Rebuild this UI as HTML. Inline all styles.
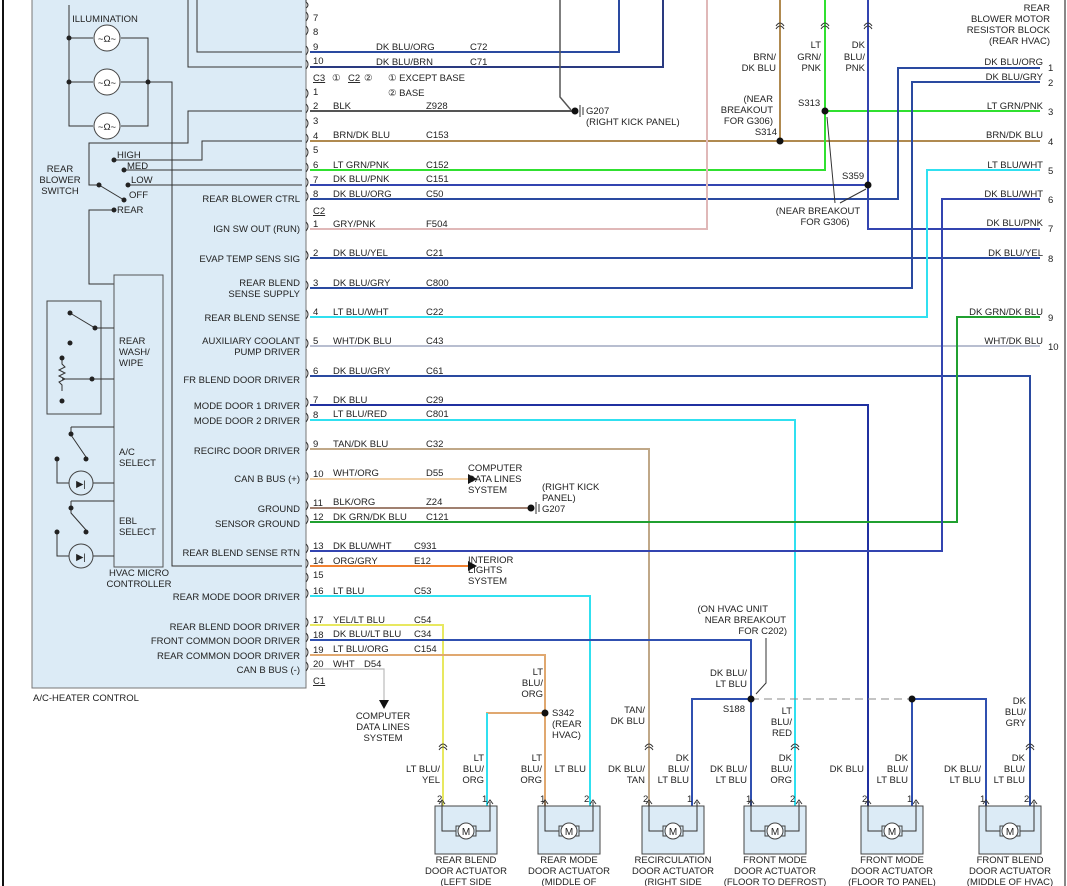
<!DOCTYPE html>
<html><head><meta charset="utf-8"><style>
html,body{margin:0;padding:0;background:#fff}
svg{display:block}
text{font-family:"Liberation Sans",sans-serif;font-size:9.5px;fill:#222}
.r{text-anchor:end}.m{text-anchor:middle}
.w{fill:none;stroke-width:2}
.k{fill:none;stroke:#333;stroke-width:1}
</style></head><body>
<svg width="1067" height="886" viewBox="0 0 1067 886" xmlns="http://www.w3.org/2000/svg">
<defs>
<g id="act">
<rect x="0" y="0" width="62" height="48" fill="#dcebf6" stroke="#444"/>
<path d="M7,-4 v29 h15 M55,-4 v29 h-15" class="k"/>
<path d="M4,-2 l3,-4 3,4 M52,-2 l3,-4 3,4" class="k"/>
<rect x="21" y="20" width="20" height="10" fill="#dcebf6" stroke="#444"/>
<circle cx="31" cy="25" r="8" fill="#fff" stroke="#444"/>
<text x="31" y="29" class="m" style="font-size:10px">M</text>
</g>
<g id="ic"><path d="M-4,4 q4,-6 8,0 M-4,1 q4,-6 8,0" class="k"/></g>
</defs>
<rect width="1067" height="886" fill="#fff"/>
<line x1="3" y1="0" x2="3" y2="886" stroke="#111" stroke-width="2"/>
<line x1="1065" y1="0" x2="1065" y2="886" stroke="#111" stroke-width="1"/>
<!-- controller box -->
<rect x="32" y="-2" width="274" height="690" fill="#dcebf6" stroke="#777"/>
<text x="33" y="701">A/C-HEATER CONTROL</text>
<!-- illumination -->
<text x="105" y="22" class="m">ILLUMINATION</text>
<path d="M69,5 V126 H93 M121,126 H148 V38 H121 M93,38 H69 M69,82 H93 M121,82 H172 V566 H302" class="k"/>
<g fill="#fff" stroke="#444"><circle cx="107" cy="38" r="13"/><circle cx="107" cy="82" r="13"/><circle cx="107" cy="126" r="13"/></g>
<g fill="#222"><circle cx="69" cy="38" r="2.5"/><circle cx="69" cy="82" r="2.5"/><circle cx="148" cy="82" r="2.5"/></g>
<text x="107" y="42" class="m">~Ω~</text><text x="107" y="86" class="m">~Ω~</text><text x="107" y="130" class="m">~Ω~</text>
<!-- top lines -->
<path d="M197,0 V52 H302 M188,0 V67 H302 M302,111 H188 V143 H89 V185 H99 L124,200 M114,160 H202 V141 H302 M124,170 H302 M128,185 H302 M114,210 H89 V284 H114" class="k"/>
<g fill="#222"><circle cx="114" cy="160" r="2.5"/><circle cx="124" cy="170" r="2.5"/><circle cx="128" cy="185" r="2.5"/><circle cx="99" cy="185" r="2.5"/><circle cx="124" cy="200" r="2.5"/><circle cx="114" cy="210" r="2.5"/></g>
<text x="117" y="158">HIGH</text><text x="127" y="169">MED</text><text x="131" y="183">LOW</text><text x="129" y="198">OFF</text><text x="117" y="213">REAR</text>
<text x="60" y="172" class="m">REAR</text><text x="60" y="183" class="m">BLOWER</text><text x="60" y="194" class="m">SWITCH</text>
<!-- micro -->
<rect x="114" y="275" width="49" height="292" fill="#dcebf6" stroke="#555"/>
<text x="119" y="344">REAR</text><text x="119" y="355">WASH/</text><text x="119" y="366">WIPE</text>
<text x="119" y="455">A/C</text><text x="119" y="466">SELECT</text>
<text x="119" y="524">EBL</text><text x="119" y="535">SELECT</text>
<text x="139" y="576" class="m">HVAC MICRO</text><text x="139" y="587" class="m">CONTROLLER</text>
<rect x="47" y="301" width="54" height="113" fill="none" stroke="#444"/>
<path d="M70,313 L95,328 H114 M92,379 H114 M62,358 v6 l3,3 -6,3 6,3 -6,3 6,3 -6,3 3,3 v6 M62,379 H92 M71,427 H114 M71,427 v8 L86,457 M57,457 V483 H114 M71,501 H114 M71,501 v12 L86,530 M57,530 V556 H114" class="k"/>
<g fill="#222"><circle cx="70" cy="313" r="2.5"/><circle cx="95" cy="328" r="2.5"/><circle cx="70" cy="343" r="2.5"/><circle cx="62" cy="358" r="2.5"/><circle cx="62" cy="401" r="2.5"/><circle cx="92" cy="379" r="2.5"/><circle cx="71" cy="434" r="2.5"/><circle cx="86" cy="459" r="2.5"/><circle cx="57" cy="459" r="2.5"/><circle cx="71" cy="508" r="2.5"/><circle cx="86" cy="532" r="2.5"/><circle cx="57" cy="532" r="2.5"/></g>
<circle cx="81" cy="483" r="12" fill="#dcebf6" stroke="#444"/><circle cx="81" cy="556" r="12" fill="#dcebf6" stroke="#444"/>
<text x="81" y="487" class="m">▶|</text><text x="81" y="560" class="m">▶|</text>
<!-- function labels -->
<g class="r">
<text x="300" y="202" class="r">REAR BLOWER CTRL</text>
<text x="300" y="232" class="r">IGN SW OUT (RUN)</text>
<text x="300" y="262" class="r">EVAP TEMP SENS SIG</text>
<text x="300" y="286" class="r">REAR BLEND</text><text x="300" y="297" class="r">SENSE SUPPLY</text>
<text x="300" y="321" class="r">REAR BLEND SENSE</text>
<text x="300" y="344" class="r">AUXILIARY COOLANT</text><text x="300" y="355" class="r">PUMP DRIVER</text>
<text x="300" y="383" class="r">FR BLEND DOOR DRIVER</text>
<text x="300" y="409" class="r">MODE DOOR 1 DRIVER</text><text x="300" y="424" class="r">MODE DOOR 2 DRIVER</text>
<text x="300" y="454" class="r">RECIRC DOOR DRIVER</text>
<text x="300" y="482" class="r">CAN B BUS (+)</text>
<text x="300" y="512" class="r">GROUND</text><text x="300" y="527" class="r">SENSOR GROUND</text>
<text x="300" y="556" class="r">REAR BLEND SENSE RTN</text>
<text x="300" y="600" class="r">REAR MODE DOOR DRIVER</text>
<text x="300" y="630" class="r">REAR BLEND DOOR DRIVER</text><text x="300" y="644" class="r">FRONT COMMON DOOR DRIVER</text>
<text x="300" y="659" class="r">REAR COMMON DOOR DRIVER</text><text x="300" y="673" class="r">CAN B BUS (-)</text>
</g>
<!-- pin connectors -->
<g class="k" stroke="#555">
<path d="M306,0 v2 q4,3 0,6 M306,12 q4,4 0,9 M306,26 q4,4 0,9 M306,46 q4,4 0,9 M306,60 q4,4 0,9 M306,89 q4,4 0,9 M306,104 q4,4 0,9 M306,119 q4,4 0,9 M306,134 q4,4 0,9 M306,148 q4,4 0,9 M306,163 q4,4 0,9 M306,178 q4,4 0,9 M306,192 q4,4 0,9 M306,222 q4,4 0,9 M306,251 q4,4 0,9 M306,281 q4,4 0,9 M306,310 q4,4 0,9 M306,339 q4,4 0,9 M306,369 q4,4 0,9 M306,398 q4,4 0,9 M306,413 q4,4 0,9 M306,442 q4,4 0,9 M306,472 q4,4 0,9 M306,501 q4,4 0,9 M306,515 q4,4 0,9 M306,544 q4,4 0,9 M306,559 q4,4 0,9 M306,573 q4,4 0,9 M306,589 q4,4 0,9 M306,618 q4,4 0,9 M306,633 q4,4 0,9 M306,648 q4,4 0,9 M306,662 q4,4 0,9"/>
</g>
<g>
<text x="313" y="21">7</text><text x="313" y="35">8</text><text x="313" y="50">9</text><text x="313" y="64">10</text>
<text x="313" y="95">1</text><text x="313" y="109">2</text><text x="313" y="124">3</text><text x="313" y="139">4</text><text x="313" y="153">5</text><text x="313" y="168">6</text><text x="313" y="183">7</text><text x="313" y="197">8</text>
<text x="313" y="227">1</text><text x="313" y="256">2</text><text x="313" y="286">3</text><text x="313" y="315">4</text><text x="313" y="344">5</text><text x="313" y="374">6</text><text x="313" y="403">7</text><text x="313" y="418">8</text><text x="313" y="447">9</text><text x="313" y="477">10</text><text x="313" y="506">11</text><text x="313" y="520">12</text><text x="313" y="549">13</text><text x="313" y="564">14</text><text x="313" y="578">15</text><text x="313" y="594">16</text><text x="313" y="623">17</text><text x="313" y="638">18</text><text x="313" y="653">19</text><text x="313" y="667">20</text>
<text x="313" y="81" text-decoration="underline">C3</text><text x="332" y="81">①</text><text x="348" y="81" text-decoration="underline">C2</text><text x="364" y="81">②</text>
<text x="388" y="81">①  EXCEPT BASE</text><text x="388" y="96">②  BASE</text>
<text x="313" y="214" text-decoration="underline">C2</text><text x="313" y="684" text-decoration="underline">C1</text>
</g>
<!-- wires -->
<g class="w">
<path d="M310,52 H619 V0" stroke="#2a4aa0"/>
<path d="M310,67 H663 V0" stroke="#2a3a80"/>
<path d="M560,0 V97 L571,110" stroke="#555" stroke-width="1.5"/>
<path d="M310,111 H572" stroke="#555"/>
<path d="M310,141 H1040 M780,0 V141" stroke="#b08a50"/>
<path d="M310,170 H825 V0 M825,111 H1040" stroke="#30e030"/>
<path d="M310,185 H868 V0 M868,185 V229 H1040" stroke="#3344b0"/>
<path d="M310,199 H898 V68 H1040" stroke="#2a4aa0"/>
<path d="M310,229 H707 V0" stroke="#e0b8b8"/>
<path d="M310,258 H1040" stroke="#2a4aa0"/>
<path d="M310,288 H912 V82 H1040" stroke="#2a4aa0"/>
<path d="M310,317 H927 V170 H1040" stroke="#30e0f0"/>
<path d="M310,346 H1040" stroke="#a0a8c0" stroke-width="1.5"/>
<path d="M310,376 H1030 V806" stroke="#2a4aa0"/>
<path d="M310,405 H868 V806" stroke="#2030a0"/>
<path d="M310,420 H795 V806" stroke="#30e0f0"/>
<path d="M310,449 H649 V806" stroke="#c0a888"/>
<path d="M310,479 H468" stroke="#f0d0a8"/>
<path d="M310,508 H528" stroke="#a08070"/>
<path d="M310,522 H957 V317 H1040" stroke="#20a030"/>
<path d="M310,551 H942 V199 H1040" stroke="#3344b0"/>
<path d="M310,566 H468" stroke="#f08030"/>
<path d="M310,596 H590 V806" stroke="#30e0f0"/>
<path d="M310,625 H443 V806" stroke="#e8e860"/>
<path d="M310,640 H751 V806 M751,699 H692 V806" stroke="#3050b0"/>
<path d="M310,655 H545 V806 M545,713 H487 V806" stroke="#e0a870"/>
<path d="M487,713 V806" stroke="#30e0f0"/>
<path d="M310,669 H384 V700" stroke="#bbb" stroke-width="1.2"/>
<path d="M912,699 H986 V806 M912,699 V806" stroke="#3050b0"/>
</g>
<path d="M751,699 H912" stroke="#888" stroke-dasharray="8,5" fill="none"/>
<!-- arrows -->
<path d="M468,474 l9,5 -9,5z M468,561 l9,5 -9,5z M379,700 l5,9 5,-9z" fill="#111"/>
<!-- dots -->
<g fill="#111"><circle cx="575" cy="111" r="3.5"/><circle cx="531" cy="508" r="3.5"/><circle cx="780" cy="141" r="3.5"/><circle cx="825" cy="111" r="3.5"/><circle cx="868" cy="185" r="3.5"/><circle cx="751" cy="699" r="3.5"/><circle cx="912" cy="699" r="3.5"/><circle cx="545" cy="713" r="3.5"/></g>
<path d="M580,105 v12 M583,107 v8 M536,502 v12 M539,504 v8" stroke="#333" fill="none"/>
<text x="586" y="114">G207</text><text x="586" y="125">(RIGHT KICK PANEL)</text>
<text x="542" y="490">(RIGHT KICK</text><text x="542" y="501">PANEL)</text><text x="542" y="512">G207</text>
<text x="468" y="471">COMPUTER</text><text x="468" y="482">DATA LINES</text><text x="468" y="493">SYSTEM</text>
<text x="468" y="563">INTERIOR</text><text x="468" y="573">LIGHTS</text><text x="468" y="584">SYSTEM</text>
<text x="383" y="719" class="m">COMPUTER</text><text x="383" y="730" class="m">DATA LINES</text><text x="383" y="741" class="m">SYSTEM</text>
<!-- wire labels -->
<g>
<text x="376" y="50">DK BLU/ORG</text><text x="470" y="50">C72</text>
<text x="376" y="65">DK BLU/BRN</text><text x="470" y="65">C71</text>
<text x="333" y="109">BLK</text><text x="426" y="109">Z928</text>
<text x="333" y="138">BRN/DK BLU</text><text x="426" y="138">C153</text>
<text x="333" y="168">LT GRN/PNK</text><text x="426" y="168">C152</text>
<text x="333" y="182">DK BLU/PNK</text><text x="426" y="182">C151</text>
<text x="333" y="197">DK BLU/ORG</text><text x="426" y="197">C50</text>
<text x="333" y="227">GRY/PNK</text><text x="426" y="227">F504</text>
<text x="333" y="256">DK BLU/YEL</text><text x="426" y="256">C21</text>
<text x="333" y="286">DK BLU/GRY</text><text x="426" y="286">C800</text>
<text x="333" y="315">LT BLU/WHT</text><text x="426" y="315">C22</text>
<text x="333" y="344">WHT/DK BLU</text><text x="426" y="344">C43</text>
<text x="333" y="374">DK BLU/GRY</text><text x="426" y="374">C61</text>
<text x="333" y="403">DK BLU</text><text x="426" y="403">C29</text>
<text x="333" y="417">LT BLU/RED</text><text x="426" y="417">C801</text>
<text x="333" y="447">TAN/DK BLU</text><text x="426" y="447">C32</text>
<text x="333" y="476">WHT/ORG</text><text x="426" y="476">D55</text>
<text x="333" y="505">BLK/ORG</text><text x="426" y="505">Z24</text>
<text x="333" y="520">DK GRN/DK BLU</text><text x="426" y="520">C121</text>
<text x="333" y="549">DK BLU/WHT</text><text x="414" y="549">C931</text>
<text x="333" y="564">ORG/GRY</text><text x="414" y="564">E12</text>
<text x="333" y="594">LT BLU</text><text x="414" y="594">C53</text>
<text x="333" y="623">YEL/LT BLU</text><text x="414" y="623">C54</text>
<text x="333" y="637">DK BLU/LT BLU</text><text x="414" y="637">C34</text>
<text x="333" y="652">LT BLU/ORG</text><text x="414" y="652">C154</text>
<text x="333" y="667">WHT</text><text x="364" y="667">D54</text>
</g>
<!-- right side -->
<g>
<text x="1050" y="11" class="r">REAR</text><text x="1050" y="22" class="r">BLOWER MOTOR</text><text x="1050" y="33" class="r">RESISTOR BLOCK</text><text x="1050" y="44" class="r">(REAR HVAC)</text>
<text x="1043" y="65" class="r">DK BLU/ORG</text><text x="1048" y="71">1</text>
<text x="1043" y="80" class="r">DK BLU/GRY</text><text x="1048" y="86">2</text>
<text x="1043" y="109" class="r">LT GRN/PNK</text><text x="1048" y="115">3</text>
<text x="1043" y="138" class="r">BRN/DK BLU</text><text x="1048" y="145">4</text>
<text x="1043" y="168" class="r">LT BLU/WHT</text><text x="1048" y="174">5</text>
<text x="1043" y="197" class="r">DK BLU/WHT</text><text x="1048" y="203">6</text>
<text x="1043" y="226" class="r">DK BLU/PNK</text><text x="1048" y="232">7</text>
<text x="1043" y="256" class="r">DK BLU/YEL</text><text x="1048" y="262">8</text>
<text x="1043" y="315" class="r">DK GRN/DK BLU</text><text x="1048" y="321">9</text>
<text x="1043" y="344" class="r">WHT/DK BLU</text><text x="1048" y="350">10</text>
<text x="776" y="60" class="r">BRN/</text><text x="776" y="71" class="r">DK BLU</text>
<text x="821" y="48" class="r">LT</text><text x="821" y="60" class="r">GRN/</text><text x="821" y="71" class="r">PNK</text>
<text x="865" y="48" class="r">DK</text><text x="865" y="60" class="r">BLU/</text><text x="865" y="71" class="r">PNK</text>
<text x="773" y="102" class="r">(NEAR</text><text x="773" y="113" class="r">BREAKOUT</text><text x="773" y="124" class="r">FOR G306)</text><text x="777" y="135" class="r">S314</text>
<text x="798" y="106">S313</text><text x="842" y="179">S359</text>
<text x="818" y="214" class="m">(NEAR BREAKOUT</text><text x="825" y="225" class="m">FOR G306)</text>
</g>
<path d="M835,203 L827,117 M840,203 L866,189" stroke="#333" fill="none"/>
<g transform="translate(780,25)"><use href="#ic"/></g><g transform="translate(825,25)"><use href="#ic"/></g><g transform="translate(868,25)"><use href="#ic"/></g>
<!-- lower labels -->
<g>
<text x="768" y="612" class="r">(ON HVAC UNIT</text><text x="786" y="623" class="r">NEAR BREAKOUT</text><text x="787" y="634" class="r">FOR C202)</text>
<path d="M766,638 V683 L756,694" stroke="#333" fill="none"/>
<text x="747" y="676" class="r">DK BLU/</text><text x="747" y="687" class="r">LT BLU</text>
<text x="745" y="712" class="r">S188</text>
<text x="552" y="716">S342</text><text x="552" y="727">(REAR</text><text x="552" y="738">HVAC)</text>
<text x="543" y="675" class="r">LT</text><text x="543" y="686" class="r">BLU/</text><text x="543" y="697" class="r">ORG</text>
<text x="645" y="713" class="r">TAN/</text><text x="645" y="724" class="r">DK BLU</text>
<text x="792" y="714" class="r">LT</text><text x="792" y="725" class="r">BLU/</text><text x="792" y="736" class="r">RED</text>
<text x="1026" y="704" class="r">DK</text><text x="1026" y="715" class="r">BLU/</text><text x="1026" y="726" class="r">GRY</text>
<text x="440" y="772" class="r">LT BLU/</text><text x="440" y="783" class="r">YEL</text>
<text x="484" y="761" class="r">LT</text><text x="484" y="772" class="r">BLU/</text><text x="484" y="783" class="r">ORG</text>
<text x="542" y="761" class="r">LT</text><text x="542" y="772" class="r">BLU/</text><text x="542" y="783" class="r">ORG</text>
<text x="586" y="772" class="r">LT BLU</text>
<text x="645" y="772" class="r">DK BLU/</text><text x="645" y="783" class="r">TAN</text>
<text x="689" y="761" class="r">DK</text><text x="689" y="772" class="r">BLU/</text><text x="689" y="783" class="r">LT BLU</text>
<text x="747" y="772" class="r">DK BLU/</text><text x="747" y="783" class="r">LT BLU</text>
<text x="792" y="761" class="r">DK</text><text x="792" y="772" class="r">BLU/</text><text x="792" y="783" class="r">ORG</text>
<text x="864" y="772" class="r">DK BLU</text>
<text x="908" y="761" class="r">DK</text><text x="908" y="772" class="r">BLU/</text><text x="908" y="783" class="r">LT BLU</text>
<text x="981" y="772" class="r">DK BLU/</text><text x="981" y="783" class="r">LT BLU</text>
<text x="1025" y="761" class="r">DK</text><text x="1025" y="772" class="r">BLU/</text><text x="1025" y="783" class="r">LT BLU</text>
</g>
<g transform="translate(443,746)"><use href="#ic"/></g><g transform="translate(649,746)"><use href="#ic"/></g><g transform="translate(795,746)"><use href="#ic"/></g><g transform="translate(1030,746)"><use href="#ic"/></g>
<!-- actuators -->
<g transform="translate(435,806)"><use href="#act"/></g>
<g transform="translate(538,806)"><use href="#act"/></g>
<g transform="translate(642,806)"><use href="#act"/></g>
<g transform="translate(744,806)"><use href="#act"/></g>
<g transform="translate(861,806)"><use href="#act"/></g>
<g transform="translate(979,806)"><use href="#act"/></g>
<g>
<text x="437" y="802">2</text><text x="482" y="802">1</text>
<text x="540" y="802">1</text><text x="584" y="802">2</text>
<text x="643" y="802">2</text><text x="687" y="802">1</text>
<text x="746" y="802">1</text><text x="790" y="802">2</text>
<text x="862" y="802">2</text><text x="907" y="802">1</text>
<text x="980" y="802">1</text><text x="1024" y="802">2</text>
</g>
<g class="m">
<text x="466" y="863" class="m">REAR BLEND</text><text x="466" y="874" class="m">DOOR ACTUATOR</text><text x="466" y="885" class="m">(LEFT SIDE</text>
<text x="569" y="863" class="m">REAR MODE</text><text x="569" y="874" class="m">DOOR ACTUATOR</text><text x="569" y="885" class="m">(MIDDLE OF</text>
<text x="673" y="863" class="m">RECIRCULATION</text><text x="673" y="874" class="m">DOOR ACTUATOR</text><text x="673" y="885" class="m">(RIGHT SIDE</text>
<text x="775" y="863" class="m">FRONT MODE</text><text x="775" y="874" class="m">DOOR ACTUATOR</text><text x="775" y="885" class="m">(FLOOR TO DEFROST)</text>
<text x="892" y="863" class="m">FRONT MODE</text><text x="892" y="874" class="m">DOOR ACTUATOR</text><text x="892" y="885" class="m">(FLOOR TO PANEL)</text>
<text x="1010" y="863" class="m">FRONT BLEND</text><text x="1010" y="874" class="m">DOOR ACTUATOR</text><text x="1010" y="885" class="m">(MIDDLE OF HVAC)</text>
</g>
</svg>
</body></html>
